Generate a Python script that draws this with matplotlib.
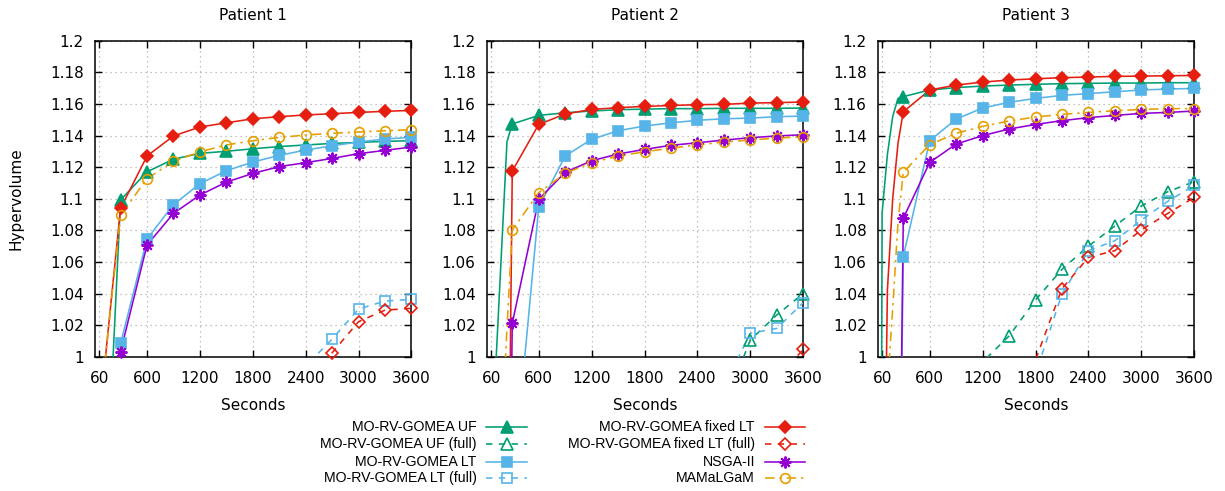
import numpy as np
import matplotlib
matplotlib.use("Agg")
import matplotlib.pyplot as plt
from matplotlib.lines import Line2D

plt.rcParams['font.family'] = ['DejaVu Sans']

# time points (s); markers are only drawn from 300 s on
t_all = [0, 60, 120, 180, 240, 300, 600, 900, 1200, 1500, 1800, 2100,
         2400, 2700, 3000, 3300, 3600]
t_full = [300, 600, 900, 1200, 1500, 1800, 2100, 2400, 2700, 3000, 3300, 3600]

# Patient 1
p1_uf = [0, 0.90, 0.93, 0.959, 1.029, 1.0992, 1.117, 1.125, 1.1287, 1.130,
         1.1316, 1.133, 1.134, 1.135, 1.1356, 1.1363, 1.1367]
p1_uf_full = [0.80, 0.85, 0.88, 0.90, 0.92, 0.935, 0.95, 0.96, 0.97, 0.975,
              0.98, 0.985]
p1_lt = [0, 0.80, 0.84, 0.87, 0.90, 1.0084, 1.0745, 1.0962, 1.1095, 1.1177,
         1.1232, 1.1274, 1.1308, 1.1335, 1.1359, 1.1378, 1.1388]
p1_lt_full = [0.80, 0.85, 0.88, 0.91, 0.93, 0.95, 0.97, 0.994, 1.0112,
              1.0302, 1.0352, 1.0363]
p1_fixed = [0, 0.92, 0.995, 1.028, 1.061, 1.0939, 1.127, 1.1397, 1.1454,
            1.148, 1.1506, 1.1519, 1.153, 1.1538, 1.1546, 1.1553, 1.1559]
p1_fixed_full = [0.78, 0.83, 0.87, 0.90, 0.92, 0.94, 0.96, 0.98, 1.0025,
                 1.0222, 1.0295, 1.0306]
p1_nsga = [0, 0.80, 0.84, 0.87, 0.90, 1.0032, 1.0707, 1.0907, 1.1023, 1.1105,
           1.116, 1.1203, 1.1228, 1.1255, 1.1285, 1.1306, 1.1327]
p1_mam = [0, 0.92, 0.995, 1.027, 1.058, 1.0895, 1.1127, 1.1236, 1.1297, 1.134,
          1.1367, 1.1388, 1.1403, 1.1414, 1.1422, 1.143, 1.1437]

# Patient 2
p2_uf = [0, 0.94, 1.002, 1.069, 1.136, 1.1473, 1.1527, 1.1544, 1.1555, 1.1563,
         1.1567, 1.157, 1.157, 1.1572, 1.1572, 1.1572, 1.1574]
p2_uf_full = [0.75, 0.80, 0.84, 0.87, 0.89, 0.91, 0.93, 0.95, 0.968, 1.0106,
              1.0264, 1.040]
p2_lt = [0, 0.70, 0.75, 0.80, 0.85, 0.915, 1.0945, 1.127, 1.1376, 1.143,
         1.146, 1.148, 1.1496, 1.1506, 1.151, 1.1519, 1.1523]
p2_lt_full = [0.76, 0.81, 0.85, 0.88, 0.90, 0.92, 0.94, 0.96, 0.981, 1.0148,
              1.0179, 1.0342]
p2_fixed = [0, 0.60, 0.70, 0.75, 0.80, 1.1175, 1.147, 1.1536, 1.1565, 1.1576,
            1.1584, 1.159, 1.1595, 1.1597, 1.1605, 1.1608, 1.1612]
p2_fixed_full = [0.74, 0.79, 0.83, 0.86, 0.88, 0.90, 0.92, 0.94, 0.955, 0.97,
                 0.986, 1.0046]
p2_nsga = [0, 0.60, 0.68, 0.72, 0.77, 1.0211, 1.0996, 1.1167, 1.124, 1.1283,
           1.1312, 1.1338, 1.1354, 1.1371, 1.1386, 1.1397, 1.1405]
p2_mam = [0, 0.80, 0.88, 0.95, 1.018, 1.0802, 1.1038, 1.116, 1.1228, 1.127,
          1.1297, 1.132, 1.134, 1.1359, 1.1371, 1.1384, 1.1392]

# Patient 3
p3_uf = [0, 1.091, 1.128, 1.152, 1.1635, 1.1646, 1.1688, 1.1703, 1.1713,
         1.1719, 1.1724, 1.1728, 1.173, 1.1732, 1.1732, 1.1734, 1.1734]
p3_uf_full = [0.90, 0.94, 0.97, 0.9967, 1.0131, 1.0359, 1.0553, 1.070, 1.0827,
              1.0954, 1.1044, 1.1108]
p3_lt = [0, 0.70, 0.74, 0.77, 0.80, 1.0633, 1.1367, 1.1504, 1.1574, 1.161,
         1.1635, 1.1654, 1.1665, 1.1677, 1.1688, 1.1694, 1.1698]
p3_lt_full = [0.85, 0.89, 0.92, 0.95, 0.97, 0.989, 1.0397, 1.0671, 1.0734,
              1.0865, 1.0983, 1.1084]
p3_fixed = [0, 0.79, 1.042, 1.10, 1.135, 1.155, 1.1688, 1.1719, 1.1738,
            1.1751, 1.1759, 1.1766, 1.177, 1.1774, 1.1776, 1.1778, 1.178]
p3_fixed_full = [0.84, 0.88, 0.91, 0.94, 0.965, 0.998, 1.043, 1.0629, 1.0671,
                 1.0802, 1.0907, 1.1008]
p3_nsga = [0, 0.70, 0.74, 0.77, 0.80, 1.0876, 1.123, 1.1346, 1.1399, 1.1441,
           1.147, 1.1494, 1.1513, 1.1527, 1.154, 1.1546, 1.1555]
p3_mam = [0, 0.85, 0.98, 1.03, 1.085, 1.1167, 1.1342, 1.1414, 1.1458, 1.1492,
          1.1517, 1.1534, 1.1546, 1.1557, 1.1565, 1.157, 1.157]

titles = ["Patient 1", "Patient 2", "Patient 3"]
xticks = [60, 600, 1200, 1800, 2400, 3000, 3600]
yticks = [1, 1.02, 1.04, 1.06, 1.08, 1.1, 1.12, 1.14, 1.16, 1.18, 1.2]

GREEN = "#009e73"
BLUE = "#56b4e9"
RED = "#e51e10"
PURPLE = "#9400d3"
ORANGE = "#e69f00"
DASH = (0, (4, 4))
DASHDOT = (0, (6, 3, 1.5, 3))

# label, colour, marker, filled, linestyle, full?
styles = [
    ("MO-RV-GOMEA UF", GREEN, "^", True, "-", False),
    ("MO-RV-GOMEA UF (full)", GREEN, "^", False, DASH, True),
    ("MO-RV-GOMEA LT", BLUE, "s", True, "-", False),
    ("MO-RV-GOMEA LT (full)", BLUE, "s", False, DASH, True),
    ("MO-RV-GOMEA fixed LT", RED, "D", True, "-", False),
    ("MO-RV-GOMEA fixed LT (full)", RED, "D", False, DASH, True),
    ("NSGA-II", PURPLE, (8, 2, 0), True, "-", False),
    ("MAMaLGaM", ORANGE, "o", False, DASHDOT, False),
]
msizes = {"^": 8, "s": 7, "D": 6.5, (8, 2, 0): 8.5, "o": 7}

panels = [
    [p1_uf, p1_uf_full, p1_lt, p1_lt_full, p1_fixed, p1_fixed_full, p1_nsga, p1_mam],
    [p2_uf, p2_uf_full, p2_lt, p2_lt_full, p2_fixed, p2_fixed_full, p2_nsga, p2_mam],
    [p3_uf, p3_uf_full, p3_lt, p3_lt_full, p3_fixed, p3_fixed_full, p3_nsga, p3_mam],
]


def marker_kw(color, marker, filled):
    kw = dict(marker=marker, markersize=msizes[marker], color=color,
              markeredgecolor=color, markeredgewidth=1.2)
    if marker == (8, 2, 0):
        kw["markeredgewidth"] = 1.4
    elif filled:
        kw["markerfacecolor"] = color
    else:
        kw["markerfacecolor"] = "none"
    return kw


fig = plt.figure(figsize=(12.25, 4.91), dpi=100)
W, H = 1225.0, 491.0
lefts = [95, 486.7, 877.7]
for k in range(3):
    ax = fig.add_axes([lefts[k] / W, 1 - 356.7 / H, 316.5 / W, 316 / H])
    for (label, color, marker, filled, ls, full), y in zip(styles, panels[k]):
        x = np.array(t_full if full else t_all, dtype=float)
        y = np.array(y, dtype=float)
        ax.plot(x, y, color=color, linestyle=ls, linewidth=1.15, zorder=3)
        keep = (x >= 300) & (y >= 1.0)
        ax.plot(x[keep], y[keep], linestyle="none", clip_on=False, zorder=4,
                **marker_kw(color, marker, filled))
    ax.set_xlim(10, 3600)
    ax.set_ylim(1, 1.2)
    ax.set_xticks(xticks)
    ax.set_yticks(yticks)
    ax.set_yticklabels(["%g" % v for v in yticks])
    ax.grid(True, color="#b0b0b0", linestyle=(0, (1, 3)), linewidth=0.9)
    ax.set_axisbelow(True)
    ax.tick_params(direction="in", top=True, right=True, length=5, width=1,
                   labelsize=11, pad=8)
    ax.tick_params(axis="x", pad=10)
    for s in ax.spines.values():
        s.set_linewidth(1.1)
    ax.set_title(titles[k], fontsize=11, pad=15)
    ax.set_xlabel("Seconds", fontsize=11, labelpad=9)
    if k == 0:
        ax.set_ylabel("Hypervolume", fontsize=11, labelpad=19)

# legend drawn by hand: right aligned text followed by sample
rows = [426.7, 444.3, 461.7, 478.3]
cols = [(476.7, 486, 527), (755, 765, 805)]
for i, (label, color, marker, filled, ls, full) in enumerate(styles):
    tx, x0, x1 = cols[i // 4]
    yy = 1 - rows[i % 4] / H
    fig.text(tx / W, yy, label, ha="right", va="center", fontsize=10.2,
             family="Liberation Sans")
    xs = [x0 / W, (x0 + x1) / 2 / W, x1 / W]
    fig.add_artist(Line2D(xs, [yy] * 3, transform=fig.transFigure, color=color,
                          linestyle=ls, linewidth=1.15))
    fig.add_artist(Line2D([xs[1]], [yy], transform=fig.transFigure,
                          linestyle="none", **marker_kw(color, marker, filled)))

fig.savefig("out.png", dpi=100)
plt.close(fig)
